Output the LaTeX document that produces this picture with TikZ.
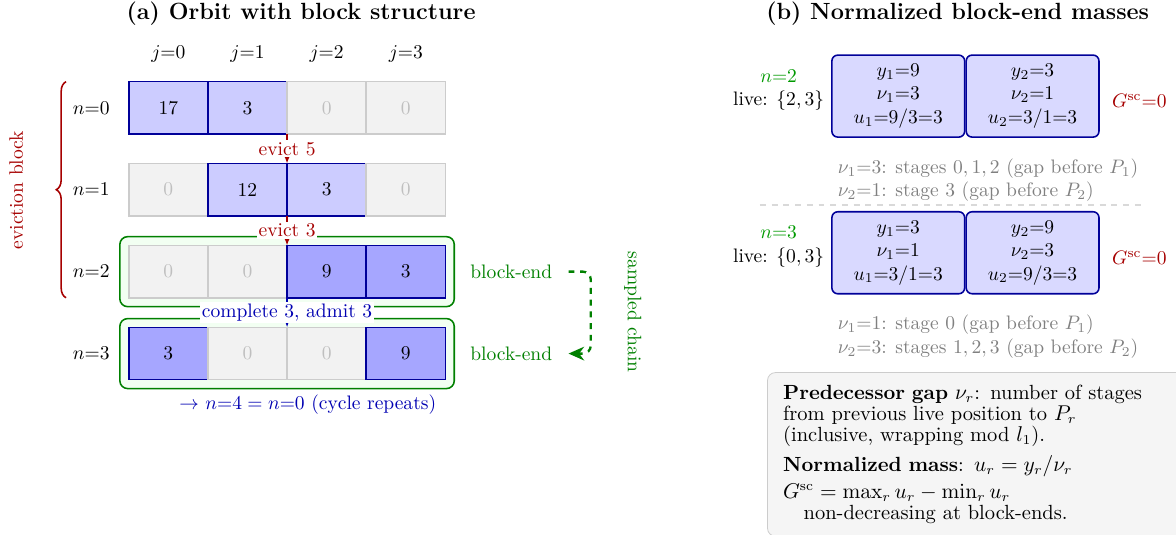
\documentclass[tikz,border=0pt]{standalone}
\usetikzlibrary{positioning, fit, backgrounds, decorations.pathreplacing, arrows.meta}

\begin{document}
\begin{tikzpicture}[
    cell/.style={rectangle, thick, minimum width=1.425cm, minimum height=0.94cm, outer sep=0pt},
    cellact/.style={cell, draw=blue!60!black, fill=blue!20},
    cellend/.style={cell, draw=blue!60!black, fill=blue!35},
    celloff/.style={cell, draw=gray!40, fill=gray!10, text=gray!50},
    frame/.style={draw=green!50!black, thick, fill=green!5, rounded corners=4pt, inner sep=0.16cm},
    lbl/.style={fill=white, inner sep=1pt},
    evict/.style={-{Latex[length=3.5pt]}, red!65!black, semithick},
    admit/.style={-{Latex[length=3.5pt]}, blue!70!black, semithick},
    brace/.style={decorate, decoration={brace, amplitude=5pt}, thick, red!65!black},
    endlbl/.style={text=green!50!black},
    chain/.style={-{Stealth[length=8pt, width=7pt]}, dashed, very thick, green!50!black, rounded corners=4pt},
    mass/.style={rectangle, draw=blue!60!black, fill=blue!15, thick, rounded corners=3pt, minimum width=2.39cm, minimum height=1.476cm, align=center},
    live/.style={align=center, anchor=east},
    gsc/.style={text=red!65!black},
    gapnote/.style={align=left, text=gray, anchor=north west},
    note/.style={draw=gray!40, fill=gray!8, rounded corners=4pt, font={\fontsize{10.5}{10.6}\selectfont}, text width=7cm, align=left, inner xsep=8pt, inner ysep=6.5pt}
]
    \useasboundingbox (0,0) rectangle (21.17,9.63);

    % Titles
    \node[font=\large\bfseries] (ta) at (5.42,9.38) {(a) Orbit with block structure};
    \node[font=\large\bfseries] (tb) at (17.24,9.38) {(b) Normalized block-end masses};

    % Orbit cells
    \foreach \n/\row in {0/{17/act,3/act,0/off,0/off}, 1/{0/off,12/act,3/act,0/off}, 2/{0/off,0/off,9/end,3/end}, 3/{3/end,0/off,0/off,9/end}} {
        \foreach \v/\st [count=\j from 0] in \row
            \node[cell\st] (c-\n-\j) at (3.03+1.425*\j, 7.69-1.475*\n) {\v};
        \node[left=0.22cm of c-\n-0] (n\n) {$n{=}\n$};
    }

    % Column labels
    \foreach \j in {0,...,3}
        \node (j\j) at (3.03+1.425*\j, 8.66) {$j{=}\j$};

    % Block-end frames
    \begin{scope}[on background layer]
        \node[frame, fit=(c-2-0)(c-2-3)] (f2) {};
        \node[frame, fit=(c-3-0)(c-3-3)] (f3) {};
    \end{scope}

    % Transitions
    \draw[evict] (c-0-1.south east) -- node[lbl] {evict 5} (c-1-1.north east);
    \draw[evict] (c-1-1.south east) -- node[lbl] {evict 3} (c-2-1.north east);
    \draw[admit] (c-2-1.south east) -- node[lbl] {complete 3, admit 3} (c-3-1.north east);
    \node[text=blue!70!black] (cyc) at (5.54,2.34) {$\rightarrow$\ $n{=}4 = n{=}0$ (cycle repeats)};

    % Eviction block
    \draw[brace] (n2.west |- c-2-0.south) -- (n0.west |- c-0-0.north);
    \node[rotate=90, text=red!65!black] (evb) at (0.29,6.21) {eviction block};

    % Sampled chain
    \node[endlbl, right=0.15cm of f2] (be2) {block-end};
    \node[endlbl, right=0.15cm of f3] (be3) {block-end};
    \draw[chain] ([xshift=0.17cm]be2.east) -- ++(0.4,0) |- ([xshift=0.17cm]be3.east);
    \node[rotate=-90, text=green!50!black] (sc) at (11.39,4.01) {sampled chain};

    % Masses at n=2
    \node[mass] (m2a) at (16.17,7.90) {$y_1{=}9$\\$\nu_1{=}3$\\$u_1{=}9/3{=}3$};
    \node[mass, right=0pt of m2a] (m2b) {$y_2{=}3$\\$\nu_2{=}1$\\$u_2{=}3/1{=}3$};
    \node[live] (l2) at ([yshift=0.11cm]m2a.west) {\textcolor{green!60!black}{$n{=}2$}\\live: $\{2,3\}$};
    \node[gsc, right=0.1cm of m2b, yshift=-0.09cm] (g2) {$G^{\mathrm{sc}}{=}0$};
    \node[gapnote] (gap2) at ([yshift=-0.25cm]m2a.south west) {$\nu_1{=}3$: stages $0,1,2$ (gap before $P_1$)\\$\nu_2{=}1$: stage $3$ (gap before $P_2$)};

    \draw[gray!30, dashed, thick] (13.68,5.94) -- (20.57,5.94);

    % Masses at n=3
    \node[mass] (m3a) at (16.17,5.08) {$y_1{=}3$\\$\nu_1{=}1$\\$u_1{=}3/1{=}3$};
    \node[mass, right=0pt of m3a] (m3b) {$y_2{=}9$\\$\nu_2{=}3$\\$u_2{=}9/3{=}3$};
    \node[live] (l3) at ([yshift=0.11cm]m3a.west) {\textcolor{green!60!black}{$n{=}3$}\\live: $\{0,3\}$};
    \node[gsc, right=0.1cm of m3b, yshift=-0.09cm] (g3) {$G^{\mathrm{sc}}{=}0$};
    \node[gapnote] (gap3) at ([yshift=-0.25cm]m3a.south west) {$\nu_1{=}1$: stage $0$ (gap before $P_1$)\\$\nu_2{=}3$: stages $1,2,3$ (gap before $P_2$)};

    % Legend
    \node[note, anchor=north west] (legend) at (13.81,2.93) {\textbf{Predecessor gap} $\nu_r$: number of stages\\from previous live position to $P_r$\\(inclusive, wrapping mod $l_1$).\\[3.5pt]\textbf{Normalized mass}: $u_r = y_r/\nu_r$\\[3.5pt]$G^{\mathrm{sc}} = \max_r u_r - \min_r u_r$\\\hspace*{1em}non-decreasing at block-ends.};
\end{tikzpicture}
\end{document}
